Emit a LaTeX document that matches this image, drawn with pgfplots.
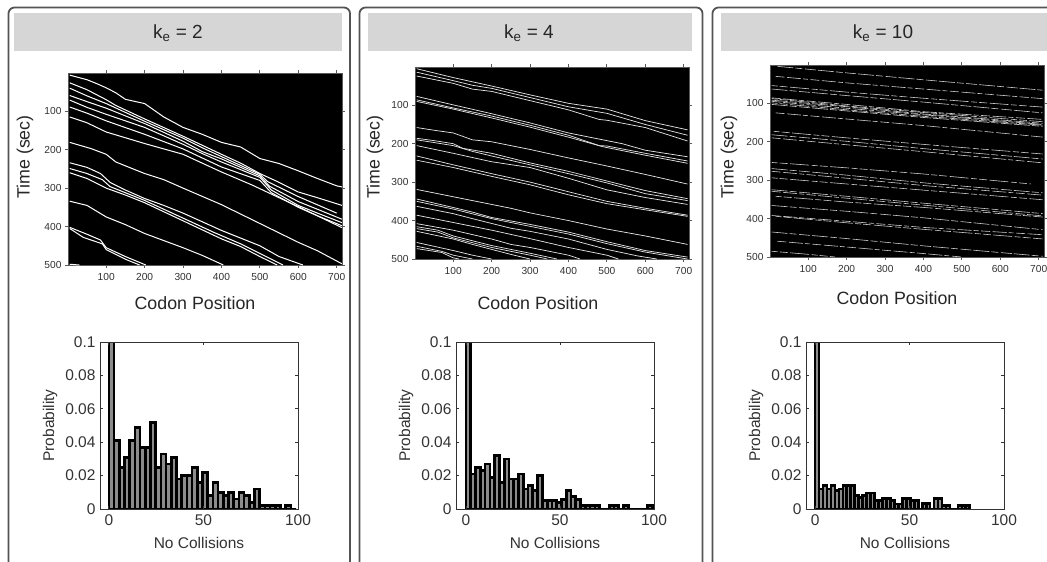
\documentclass[border=0pt]{standalone}
\usepackage{fontspec}
\usepackage{pgfplots}
\pgfplotsset{compat=1.18}
\setmainfont{Liberation Sans}
\definecolor{txt}{gray}{0.2}
\definecolor{frm}{gray}{0.33}
\definecolor{hdr}{gray}{0.84}
\definecolor{bargrey}{gray}{0.55}
\pgfplotsset{
  heat/.style={
    scale only axis, anchor=north west, width=#1, height=192pt,
    xmin=0.5, xmax=713.8, ymin=0.5, ymax=500, y dir=reverse,
    axis background/.style={fill=black},
    xtick={100,200,300,400,500,600,700}, ytick={100,200,300,400,500},
    tick align=outside, major tick length=3pt,
    every tick/.style={gray!70!black, line width=0.9pt},
    axis line style={gray!70!black, line width=0.8pt},
    tick label style={font=\fontsize{10.2}{12}\selectfont, text=txt},
    /pgf/number format/assume math mode=true,
    label style={font=\fontsize{17.8}{20}\selectfont, text=black!85},
    xticklabel shift=2pt, yticklabel shift=0pt,
  },
  hist/.style={
    scale only axis, anchor=north west, width=198pt, height=167pt,
    xmax=100, ymin=0, ymax=0.1,
    xtick={0,50,100}, ytick={0,0.02,0.04,0.06,0.08,0.1},
    yticklabels={0,0.02,0.04,0.06,0.08,0.1},
    tick align=inside, major tick length=3pt,
    every tick/.style={black!80, line width=0.8pt},
    axis line style={black!80, line width=1pt},
    tick label style={font=\fontsize{15.5}{18}\selectfont, text=txt},
    /pgf/number format/assume math mode=true,
    label style={font=\fontsize{15.5}{18}\selectfont, text=txt},
    xticklabel shift=2pt, yticklabel shift=1pt,
    axis on top,
    ylabel style={at={(axis description cs:0.5,0.5)},anchor=center,yshift=149pt},
    xlabel style={at={(axis description cs:0.5,0.5)},anchor=center,yshift=-117.5pt},
    xlabel={No Collisions}, ylabel={Probability},
  },
  barsty/.style={ybar interval, fill=bargrey, draw=black, line width=2.7pt},
  l1/.style={white, line width=1pt, line join=round},
  l2/.style={white!90!black, line width=0.72pt, line join=round},
  d1/.style={white!80!black, line width=0.6pt, dash pattern=on 16pt off 2pt on 7pt off 2.5pt on 11pt off 2pt},
  d2/.style={white!80!black, line width=0.6pt, dash pattern=on 9pt off 2.5pt on 14pt off 2pt on 5pt off 2.5pt},
  d3/.style={white!80!black, line width=0.6pt, dash pattern=on 6pt off 2pt on 8pt off 2.5pt on 19pt off 2.5pt},
}
\begin{document}
\begin{tikzpicture}[x=1pt,y=1pt]
\clip (0,0) rectangle (1047,-562);
\fill[white] (0,0) rectangle (1047,-562);
% panels
\draw[frm, line width=1.8pt, rounded corners=6pt] (8.5,-600) -- (8.5,-7.5) -- (350,-7.5) -- (350,-600);
\draw[frm, line width=1.8pt, rounded corners=6pt] (359.5,-600) -- (359.5,-7.5) -- (702.5,-7.5) -- (702.5,-600);
\draw[frm, line width=1.8pt, rounded corners=6pt] (712.5,-600) -- (712.5,-7.5) -- (1070,-7.5);
\fill[hdr] (14,-13) rectangle (342,-51);
\fill[hdr] (368,-13) rectangle (692,-51);
\fill[hdr] (721,-13) rectangle (1047,-51);
\node[font=\fontsize{19}{21}\selectfont, text=black!85] at (178,-33) {k\textsubscript{e} = 2};
\node[font=\fontsize{19}{21}\selectfont, text=black!85] at (529,-33) {k\textsubscript{e} = 4};
\node[font=\fontsize{19}{21}\selectfont, text=black!85] at (883,-33) {k\textsubscript{e} = 10};

% ---- heat 1
\begin{axis}[heat=274pt, at={(68pt,-73pt)}, xlabel={Codon Position}, ylabel={Time (sec)},
  xlabel style={at={(axis description cs:0.5,0.5)},anchor=center,xshift=-10pt,yshift=-134pt},
  ylabel style={at={(axis description cs:0.5,0.5)},anchor=center,xshift=12pt,yshift=180pt}]
\addplot[l1] coordinates {(5,6)(50,18)(75,28)(100,39)(125,52)(150,69)(200,80)(250,115)(300,142)(350,160)(400,181)(450,193)(500,223)(550,236)(600,255)(650,275)(700,294)(714,297)};
\addplot[l1] coordinates {(5,26)(50,44)(100,70)(125,85)(200,120)(300,165)(400,212)(450,235)(500,262)(550,285)(600,310)(650,325)(714,345)};
\addplot[l1] coordinates {(5,40)(50,60)(100,80)(200,126)(300,170)(350,195)(400,218)(500,264)(520,283)(600,322)(700,365)};
\addplot[l1] coordinates {(5,59)(50,75)(100,92)(200,132)(300,178)(350,205)(400,224)(500,268)(525,295)(600,335)(650,355)(714,381)};
\addplot[l1] coordinates {(5,71)(50,90)(100,108)(200,142)(300,186)(350,210)(400,232)(500,272)(530,305)(600,345)(650,365)(714,390)};
\addplot[l1] coordinates {(5,89)(50,105)(100,125)(200,160)(300,198)(400,245)(500,280)(530,312)(600,350)(650,372)(714,398)};
\addplot[l1] coordinates {(5,115)(50,130)(100,154)(200,184)(300,212)(400,258)(480,292)(550,325)(600,348)(714,403)};
\addplot[l1] coordinates {(5,181)(60,197)(100,212)(125,232)(200,262)(250,278)(300,300)(400,343)(500,392)(600,441)(650,463)(714,497)};
\addplot[l1] coordinates {(5,234)(50,246)(85,262)(110,285)(150,305)(200,327)(250,345)(300,365)(400,410)(500,450)(550,478)(612,500)};
\addplot[l1] coordinates {(5,249)(50,262)(90,278)(110,296)(200,332)(300,378)(380,415)(450,445)(500,470)(540,490)(560,500)};
\addplot[l1] coordinates {(5,260)(50,275)(100,300)(150,318)(200,338)(300,385)(400,432)(450,452)(500,478)(545,500)};
\addplot[l1] coordinates {(5,334)(50,345)(100,375)(150,395)(200,418)(300,455)(350,475)(405,500)};
\addplot[l1] coordinates {(5,402)(50,420)(85,435)(100,455)(150,478)(203,500)};
\addplot[l1] coordinates {(5,405)(40,428)(90,445)(100,460)(150,485)(187,500)};
\addplot[l1] coordinates {(5,498)(30,500)};
\end{axis}

% ---- heat 2
\begin{axis}[heat=274pt, at={(415pt,-67pt)}, xlabel={Codon Position}, ylabel={Time (sec)},
  xlabel style={at={(axis description cs:0.5,0.5)},anchor=center,xshift=-14pt,yshift=-140pt},
  ylabel style={at={(axis description cs:0.5,0.5)},anchor=center,xshift=6pt,yshift=177pt}]
\addplot[l2] coordinates {(5,5)(100,28)(200,50)(300,73)(400,95)(500,110)(540,122)(600,140)(710,164)};
\addplot[l2] coordinates {(5,14)(100,36)(150,48)(200,56)(300,80)(400,104)(500,121)(600,150)(710,178)};
\addplot[l2] coordinates {(5,24)(100,43)(150,58)(200,64)(300,88)(400,112)(480,137)(500,139)(600,158)(710,193)};
\addplot[l2] coordinates {(5,77)(100,99)(200,122)(300,146)(400,172)(500,192)(540,200)(600,217)(710,234)};
\addplot[l2] coordinates {(5,86)(100,107)(200,128)(300,152)(400,178)(480,205)(500,206)(600,225)(710,245)};
\addplot[l2] coordinates {(5,90)(100,110)(200,133)(300,157)(400,183)(490,208)(600,230)(710,251)};
\addplot[l2] coordinates {(5,158)(50,165)(100,172)(150,190)(200,195)(300,215)(400,237)(500,258)(600,280)(710,305)};
\addplot[l2] coordinates {(5,186)(50,192)(100,200)(125,212)(200,225)(300,250)(400,272)(500,297)(600,322)(710,343)};
\addplot[l2] coordinates {(5,190)(50,197)(100,205)(150,220)(200,232)(300,255)(400,278)(500,302)(600,330)(710,348)};
\addplot[l2] coordinates {(5,205)(100,225)(200,247)(300,262)(400,290)(500,320)(600,340)(710,358)};
\addplot[l2] coordinates {(5,232)(100,255)(200,278)(300,300)(400,325)(500,350)(600,368)(710,386)};
\addplot[l2] coordinates {(5,243)(100,262)(200,285)(300,307)(400,333)(500,356)(600,372)(710,389)};
\addplot[l2] coordinates {(5,319)(100,338)(200,358)(250,368)(300,380)(400,400)(500,422)(600,440)(710,462)};
\addplot[l2] coordinates {(5,344)(100,366)(150,378)(200,392)(300,410)(400,430)(500,455)(600,478)(710,495)};
\addplot[l2] coordinates {(5,350)(100,370)(200,395)(300,415)(400,435)(500,460)(600,482)(710,500)};
\addplot[l2] coordinates {(5,363)(100,382)(150,395)(250,420)(300,428)(400,448)(500,475)(580,492)(630,500)};
\addplot[l2] coordinates {(5,386)(100,405)(200,425)(300,447)(400,470)(500,490)(530,500)};
\addplot[l2] coordinates {(5,408)(100,425)(200,448)(250,462)(300,470)(400,490)(430,500)};
\addplot[l2] coordinates {(5,416)(60,425)(100,440)(200,465)(300,485)(370,500)};
\addplot[l2] coordinates {(5,421)(60,430)(100,445)(200,470)(300,490)(345,500)};
\addplot[l2] coordinates {(5,428)(100,448)(150,462)(250,488)(300,500)};
\addplot[l2] coordinates {(5,457)(100,478)(150,490)(200,500)};
\addplot[l2] coordinates {(5,467)(70,480)(100,490)(150,500)};
\addplot[l2] coordinates {(5,473)(70,483)(100,497)(115,500)};
\end{axis}

% ---- heat 3
\begin{axis}[heat=274pt, at={(770pt,-65pt)}, xlabel={Codon Position}, ylabel={Time (sec)},
  xlabel style={at={(axis description cs:0.5,0.5)},anchor=center,xshift=-10pt,yshift=-137pt},
  ylabel style={at={(axis description cs:0.5,0.5)},anchor=center,xshift=4pt,yshift=178pt}]
\addplot[d1] coordinates {(20,4)(200,21)(400,39)(710,66)};
\addplot[d2] coordinates {(15,30)(200,47)(400,63)(710,88)};
\addplot[d3] coordinates {(5,54)(200,71)(400,87)(710,110)};
\addplot[d1] coordinates {(5,63)(200,80)(400,97)(710,125)};
\addplot[d2] coordinates {(5,86)(200,103)(400,122)(710,142)};
\addplot[d3] coordinates {(5,88)(200,107)(400,124)(710,148)};
\addplot[d1] coordinates {(5,92)(200,109)(400,128)(710,152)};
\addplot[d2] coordinates {(5,95)(200,113)(400,130)(710,155)};
\addplot[d3] coordinates {(5,99)(200,117)(400,134)(710,157)};
\addplot[d1] coordinates {(5,103)(200,120)(400,137)(710,160)};
\addplot[d2] coordinates {(15,125)(200,141)(400,158)(710,188)};
\addplot[d3] coordinates {(10,173)(200,190)(400,207)(710,232)};
\addplot[d1] coordinates {(5,182)(200,199)(400,218)(710,245)};
\addplot[d2] coordinates {(5,190)(200,208)(400,226)(710,255)};
\addplot[d3] coordinates {(5,254)(200,268)(400,284)(680,310)};
\addplot[d1] coordinates {(5,270)(200,287)(400,307)(710,333)};
\addplot[d2] coordinates {(5,277)(200,295)(400,314)(710,339)};
\addplot[d3] coordinates {(5,294)(200,310)(400,326)(710,351)};
\addplot[d1] coordinates {(5,325)(200,342)(400,360)(710,387)};
\addplot[d2] coordinates {(5,329)(200,347)(400,365)(710,393)};
\addplot[d3] coordinates {(15,342)(200,357)(400,371)(710,396)};
\addplot[d1] coordinates {(5,366)(200,381)(400,398)(710,429)};
\addplot[d2] coordinates {(5,392)(200,407)(400,423)(710,442)};
\addplot[d3] coordinates {(15,394)(200,411)(400,428)(710,453)};
\addplot[d1] coordinates {(5,435)(200,452)(400,471)(710,498)};
\addplot[d2] coordinates {(20,459)(200,474)(400,491)(500,500)};
\addplot[d3] coordinates {(5,485)(100,493)(170,500)};
\end{axis}

% ---- hist 1
\begin{axis}[hist, at={(100pt,-342pt)}, xmin=-4.7]
\addplot[barsty] coordinates {(0,0.2)(2.75,0.041)(5.5,0.025)(8.25,0.031)(11,0.041)(13.75,0.049)(16.5,0.037)(19.25,0.037)(22,0.052)(24.75,0.025)(27.5,0.033)(30.25,0.027)(33,0.031)(35.75,0.018)(38.5,0.02)(41.25,0.02)(44,0.025)(46.75,0.016)(49.5,0.022)(52.25,0.008)(55,0.016)(57.75,0.01)(60.5,0.008)(63.25,0.01)(66,0.006)(68.75,0.01)(71.5,0.008)(74.25,0.004)(77,0.012)(79.75,0.002)(82.5,0.002)(85.25,0.002)(88,0.002)(90.75,0)(93.5,0.002)(96.25,0)(99,0)};
\end{axis}

% ---- hist 2
\begin{axis}[hist, at={(456pt,-342pt)}, xmin=-5.3]
\addplot[barsty] coordinates {(0,0.2)(2.54,0.021)(5.08,0.025)(7.62,0.023)(10.16,0.027)(12.7,0.019)(15.24,0.032)(17.78,0.016)(20.32,0.03)(22.86,0.018)(25.4,0.018)(27.94,0.021)(30.48,0.012)(33.02,0.014)(35.56,0.011)(38.1,0.02)(40.64,0.005)(43.18,0.005)(45.72,0.005)(48.26,0.004)(50.8,0.0055)(53.34,0.011)(55.88,0.0075)(58.42,0.0055)(60.96,0.002)(63.5,0.002)(66.04,0.002)(68.58,0.002)(71.12,0)(73.66,0)(76.2,0.002)(78.74,0.002)(81.28,0)(83.82,0.002)(86.36,0)(88.9,0)(91.44,0)(93.98,0)(96.52,0.002)(99.06,0)};
\end{axis}

% ---- hist 3
\begin{axis}[hist, at={(806pt,-342pt)}, xmin=-4.8]
\addplot[barsty] coordinates {(0,0.2)(2.1,0.012)(4.2,0.014)(6.3,0.012)(8.4,0.014)(10.5,0.011)(12.6,0.012)(14.7,0.014)(16.8,0.014)(18.9,0.014)(21,0.008)(23.1,0.007)(25.2,0.008)(27.3,0.0095)(29.4,0.0095)(31.5,0.005)(33.6,0.005)(35.7,0.0065)(37.8,0.0065)(39.9,0.005)(42,0.003)(44.1,0.003)(46.2,0.0065)(48.3,0.0065)(50.4,0.005)(52.5,0.005)(54.6,0)(56.7,0.0035)(58.8,0.0035)(60.9,0)(63,0.0065)(65.1,0.0065)(67.2,0.002)(69.3,0.002)(71.4,0)(73.5,0)(75.6,0.002)(77.7,0.002)(79.8,0.002)(81.9,0)};
\end{axis}
\end{tikzpicture}
\end{document}
